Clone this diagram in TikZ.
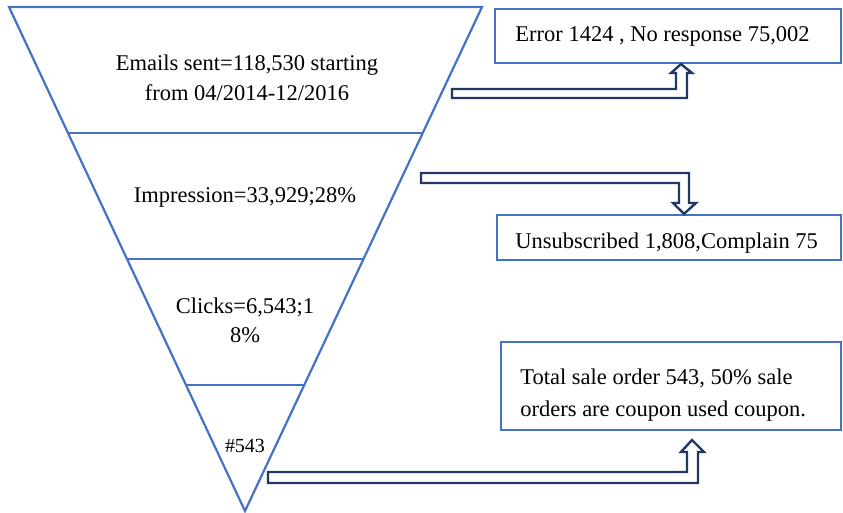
\documentclass[tikz,border=0pt]{standalone}
\usepackage{fontspec}
\setmainfont{Liberation Serif}
\usetikzlibrary{calc}
\definecolor{funnelblue}{HTML}{4472C4}
\definecolor{arrownavy}{HTML}{203864}
\begin{document}
\begin{tikzpicture}[x=0.5pt,y=-0.5pt,
  funnelline/.style={draw=funnelblue,line width=1.1pt,line join=miter},
  notebox/.style={draw=funnelblue,line width=1.1pt,inner sep=0pt},
  bentarrow/.style={draw=arrownavy,fill=white,line width=1.2pt,line join=miter},
  label/.style={font=\fontsize{11.25}{15}\selectfont,inner sep=0pt,align=center},
  boxtext/.style={font=\fontsize{11.25}{16}\selectfont,inner sep=0pt,align=left,anchor=base west}]
\useasboundingbox (0,0) rectangle (843,513);

% funnel outline
\coordinate (tl) at (9,7);
\coordinate (tr) at (482,7);
\coordinate (apex) at (245,511);
\draw[funnelline] (tl) -- (tr) -- (apex) -- cycle;
\foreach \f in {0.25,0.5,0.75}
  \draw[funnelline] ($(tl)!\f!(apex)$) -- ($(tr)!\f!(apex)$);

% funnel stage labels (base anchor = baseline of the last line)
\node[label,anchor=base] (sent) at (247,101) {Emails sent=118,530 starting\\from 04/2014-12/2016};
\node[label,anchor=base] (impr) at (245,203) {Impression=33,929;28\%};
\node[label,anchor=base,font=\fontsize{11.25}{14.5}\selectfont] (clicks) at (245,343) {Clicks=6,543;1\\8\%};
\node[label,anchor=base,font=\fontsize{10}{12}\selectfont] (orders) at (245,453) {\#543};

% side boxes
\node[notebox,minimum width=173pt,minimum height=27pt] (errbox) at (668,36) {};
\node[notebox,minimum width=172pt,minimum height=22.5pt] (unsubbox) at (669,237.5) {};
\node[notebox,minimum width=170pt,minimum height=44pt] (salebox) at (671,386) {};

\node[boxtext] (errtext) at (515,42) {Error 1424 , No response 75,002};
\node[boxtext] (unsubtext) at (515,249) {Unsubscribed 1,808,Complain 75};
\node[boxtext] (saletext) at (520,417) {Total sale order 543, 50\% sale\\orders are coupon used coupon.};

% bent block arrows from the stages to the boxes
\draw[bentarrow] (452,89) -- (676,89) -- (676,73) -- (671,73) -- (errbox.south -| 681,0)
  -- (692,73) -- (687,73) -- (687,98) -- (452,98) -- cycle;
\draw[bentarrow] (421,173) -- (689,173) -- (689,203) -- (696,203) -- (unsubbox.north -| 684,0)
  -- (673,203) -- (679,203) -- (679,183) -- (421,183) -- cycle;
\draw[bentarrow] (268,472) -- (687,472) -- (687,452) -- (681,452) -- (692,440)
  -- (704,452) -- (698,452) -- (698,483) -- (268,483) -- cycle;
\end{tikzpicture}
\end{document}
